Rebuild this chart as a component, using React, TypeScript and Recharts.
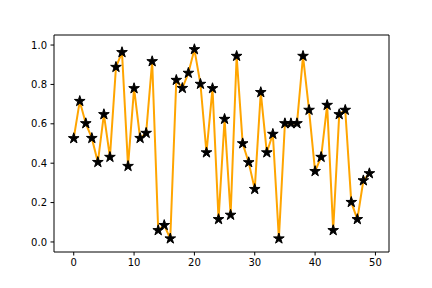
import React from 'react';
import { LineChart, Line, XAxis, YAxis, ReferenceLine } from 'recharts';

// x positions 0..49 and values
const X_VALUES = Array.from({ length: 50 }, (_, i) => i);
const Y_VALUES = [
  0.526, 0.715, 0.602, 0.527, 0.405, 0.648, 0.431, 0.888, 0.963, 0.385,
  0.78, 0.527, 0.553, 0.917, 0.059, 0.085, 0.017, 0.822, 0.781, 0.858,
  0.978, 0.802, 0.454, 0.78, 0.115, 0.624, 0.137, 0.944, 0.5, 0.404,
  0.268, 0.76, 0.454, 0.548, 0.017, 0.602, 0.602, 0.602, 0.944, 0.67,
  0.359, 0.431, 0.695, 0.059, 0.648, 0.67, 0.202, 0.115, 0.312, 0.348,
];
const X_TICKS = [0, 10, 20, 30, 40, 50];
const Y_TICKS = [0, 0.2, 0.4, 0.6, 0.8, 1.0];

const X_DOMAIN = [-3.27, 52.25];
const Y_DOMAIN = [-0.051, 1.051];

const data = X_VALUES.map((x, i) => ({ x, y: Y_VALUES[i] }));

const FONT = 'DejaVu Sans, sans-serif';

// matplotlib '*' marker
const StarDot = (props: any) => {
  const { cx, cy, index } = props;
  if (cx == null || cy == null) return null;
  const R = 5.6;
  const r = R * 0.382;
  const pts: string[] = [];
  for (let k = 0; k < 10; k++) {
    const rad = k % 2 === 0 ? R : r;
    const a = -Math.PI / 2 + (k * Math.PI) / 5;
    pts.push(`${cx + rad * Math.cos(a)},${cy + rad * Math.sin(a)}`);
  }
  return <polygon key={`star-${index}`} points={pts.join(' ')} fill="#000" stroke="#000" strokeWidth={1} strokeLinejoin="miter" />;
};

const tickStyle = { fontSize: 10, fill: '#000', fontFamily: FONT };

export default function App() {
  return (
    <div style={{ position: 'absolute', left: 0, top: 0, width: 432, height: 288, background: '#fff' }}>
      <LineChart width={432} height={288} data={data} margin={{ top: 35, right: 43, bottom: 0, left: 0 }}>
        <XAxis
          dataKey="x"
          type="number"
          domain={X_DOMAIN}
          ticks={X_TICKS}
          allowDataOverflow
          height={36}
          tickSize={3.5}
          tickMargin={3}
          tick={tickStyle}
          stroke="#000"
          tickLine={{ stroke: '#000' }}
          axisLine={{ stroke: '#000', strokeWidth: 1 }}
        />
        <YAxis
          type="number"
          domain={Y_DOMAIN}
          ticks={Y_TICKS}
          allowDataOverflow
          width={54}
          tickSize={3.5}
          tickMargin={3.5}
          tick={tickStyle}
          tickFormatter={(v: number) => v.toFixed(1)}
          stroke="#000"
          tickLine={{ stroke: '#000' }}
          axisLine={{ stroke: '#000', strokeWidth: 1 }}
        />
        {/* top and right spines */}
        <ReferenceLine y={Y_DOMAIN[1]} stroke="#000" strokeWidth={1} ifOverflow="extendDomain" />
        <ReferenceLine x={X_DOMAIN[1]} stroke="#000" strokeWidth={1} ifOverflow="extendDomain" />
        <Line
          dataKey="y"
          type="linear"
          stroke="#FFA500"
          strokeWidth={2}
          dot={<StarDot />}
          activeDot={false}
          isAnimationActive={false}
        />
      </LineChart>
    </div>
  );
}
